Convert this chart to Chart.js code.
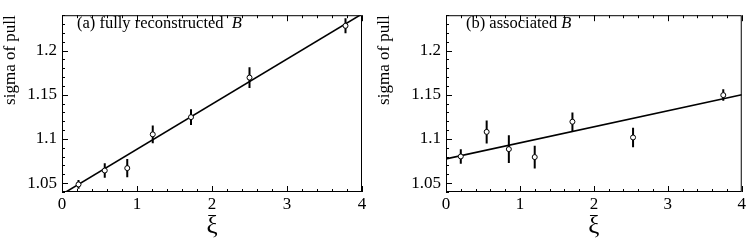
<!DOCTYPE html>
<html>
<head>
<meta charset="utf-8">
<script src="https://cdn.jsdelivr.net/npm/chart.js@4.4.0/dist/chart.umd.min.js"></script>
<style>
  body { margin: 0; background: #fff; }
  canvas { position: absolute; top: 0; }
</style>
</head>
<body>
<canvas id="chartA" width="374" height="242" style="left:0"></canvas>
<canvas id="chartB" width="374" height="242" style="left:374px"></canvas>
<script>
// (a) fully reconstructed B
const xiA = [0.22, 0.57, 0.87, 1.21, 1.72, 2.50, 3.78];
const sigmaA = [1.0486, 1.0643, 1.067, 1.1052, 1.1247, 1.1694, 1.228];
const errA = [0.005, 0.0083, 0.0104, 0.010, 0.009, 0.0118, 0.0085];
const fitA = [1.0374, 1.2414]; // fit line at xi = 0 and xi = 4

// (b) associated B
const xiB = [0.20, 0.55, 0.85, 1.20, 1.71, 2.53, 3.75];
const sigmaB = [1.0802, 1.108, 1.0885, 1.0795, 1.1195, 1.1017, 1.1496];
const errB = [0.0083, 0.013, 0.0156, 0.0128, 0.0104, 0.011, 0.0065];
const fitB = [1.0775, 1.150];

const fitX = [0, 4];
const xTicks = [0, 1, 2, 3, 4];
const yTicks = [1.05, 1.1, 1.15, 1.2];
const xRange = [0, 4];
const yRange = [1.04, 1.24];

const serif = "'Liberation Serif', 'DejaVu Serif', serif";

// frame, inward ticks, error bars and panel label
const panelPlugin = {
    id: 'panel',
    beforeDatasetsDraw(chart, args, opts) {
        const ctx = chart.ctx;
        const x = chart.scales.x, y = chart.scales.y;
        const a = chart.chartArea;
        ctx.save();
        ctx.strokeStyle = '#000';
        ctx.lineWidth = 1;
        ctx.strokeRect(a.left + 0.5, a.top + 0.5, a.right - a.left - 1, a.bottom - a.top - 1);

        // ticks along bottom and top
        ctx.beginPath();
        for (let i = 0; i <= 20; i++) {
            const v = xRange[0] + i * 0.2;
            const px = Math.round(x.getPixelForValue(v)) + 0.5;
            const len = i % 5 === 0 ? 6 : 3;
            ctx.moveTo(px, a.bottom);
            ctx.lineTo(px, a.bottom - len);
            ctx.moveTo(px, a.top);
            ctx.lineTo(px, a.top + len);
        }
        // ticks along left side
        for (let i = 0; i <= 20; i++) {
            const v = yRange[0] + i * 0.01;
            const py = Math.round(y.getPixelForValue(v)) + 0.5;
            const len = i % 5 === 1 ? 6 : 3;
            ctx.moveTo(a.left, py);
            ctx.lineTo(a.left + len, py);
        }
        ctx.stroke();

        // error bars
        const ds = chart.data.datasets[0];
        const errs = opts.errors;
        ctx.lineWidth = 2;
        ctx.beginPath();
        ds.data.forEach((p, i) => {
            const px = x.getPixelForValue(p.x);
            ctx.moveTo(px, y.getPixelForValue(p.y - errs[i]));
            ctx.lineTo(px, y.getPixelForValue(p.y + errs[i]));
        });
        ctx.stroke();

        // panel label
        ctx.fillStyle = '#000';
        ctx.textBaseline = 'middle';
        ctx.font = '16.5px ' + serif;
        ctx.fillText(opts.label, a.left + opts.labelDx, 24);
        const w = ctx.measureText(opts.label).width;
        ctx.font = 'italic 16.5px ' + serif;
        ctx.fillText('B', a.left + opts.labelDx + w, 24);
        ctx.restore();
    }
};

function makeChart(id, xs, ys, errs, fit, label, labelDx, leftWidth, rightPad) {
    const ctx = document.getElementById(id).getContext('2d');
    return new Chart(ctx, {
        type: 'scatter',
        data: {
            datasets: [{
                data: xs.map((v, i) => ({ x: v, y: ys[i] })),
                pointStyle: 'circle',
                pointRadius: 2.5,
                pointBorderWidth: 1,
                pointBorderColor: '#000',
                pointBackgroundColor: '#fff',
                showLine: false,
                order: 0
            }, {
                type: 'line',
                data: fitX.map((v, i) => ({ x: v, y: fit[i] })),
                borderColor: '#000',
                borderWidth: 1.6,
                pointRadius: 0,
                fill: false,
                order: 1
            }]
        },
        options: {
            responsive: false,
            animation: false,
            devicePixelRatio: 1,
            layout: { padding: { left: 0, top: 1, right: rightPad, bottom: 0 } },
            plugins: {
                legend: { display: false },
                tooltip: { enabled: false },
                panel: { errors: errs, label: label, labelDx: labelDx }
            },
            scales: {
                x: {
                    type: 'linear',
                    min: xRange[0],
                    max: xRange[1],
                    afterBuildTicks: s => { s.ticks = xTicks.map(v => ({ value: v })); },
                    afterFit: s => { s.height = 50; },
                    grid: { display: false, drawTicks: false },
                    border: { display: false },
                    ticks: { color: '#000', font: { family: serif, size: 17 }, padding: 2, maxRotation: 0 },
                    title: { display: true, text: 'ξ', color: '#000', font: { family: serif, size: 25 }, padding: { top: 0, bottom: 1 } }
                },
                y: {
                    min: yRange[0],
                    max: yRange[1],
                    afterBuildTicks: s => { s.ticks = yTicks.map(v => ({ value: v })); },
                    afterFit: s => { s.width = leftWidth; },
                    grid: { display: false, drawTicks: false },
                    border: { display: false },
                    ticks: {
                        color: '#000',
                        font: { family: serif, size: 17 },
                        padding: 5,
                        callback: v => String(+v.toFixed(2))
                    },
                    title: { display: true, text: 'sigma of pull', align: 'end', color: '#000', font: { family: serif, size: 17 }, padding: { top: 0, bottom: 0 } }
                }
            }
        },
        plugins: [panelPlugin]
    });
}

makeChart('chartA', xiA, sigmaA, errA, fitA, '(a) fully reconstructed  ', 15, 62, 12);
makeChart('chartB', xiB, sigmaB, errB, fitB, '(b) associated ', 20, 72, 5);
</script>
</body>
</html>
